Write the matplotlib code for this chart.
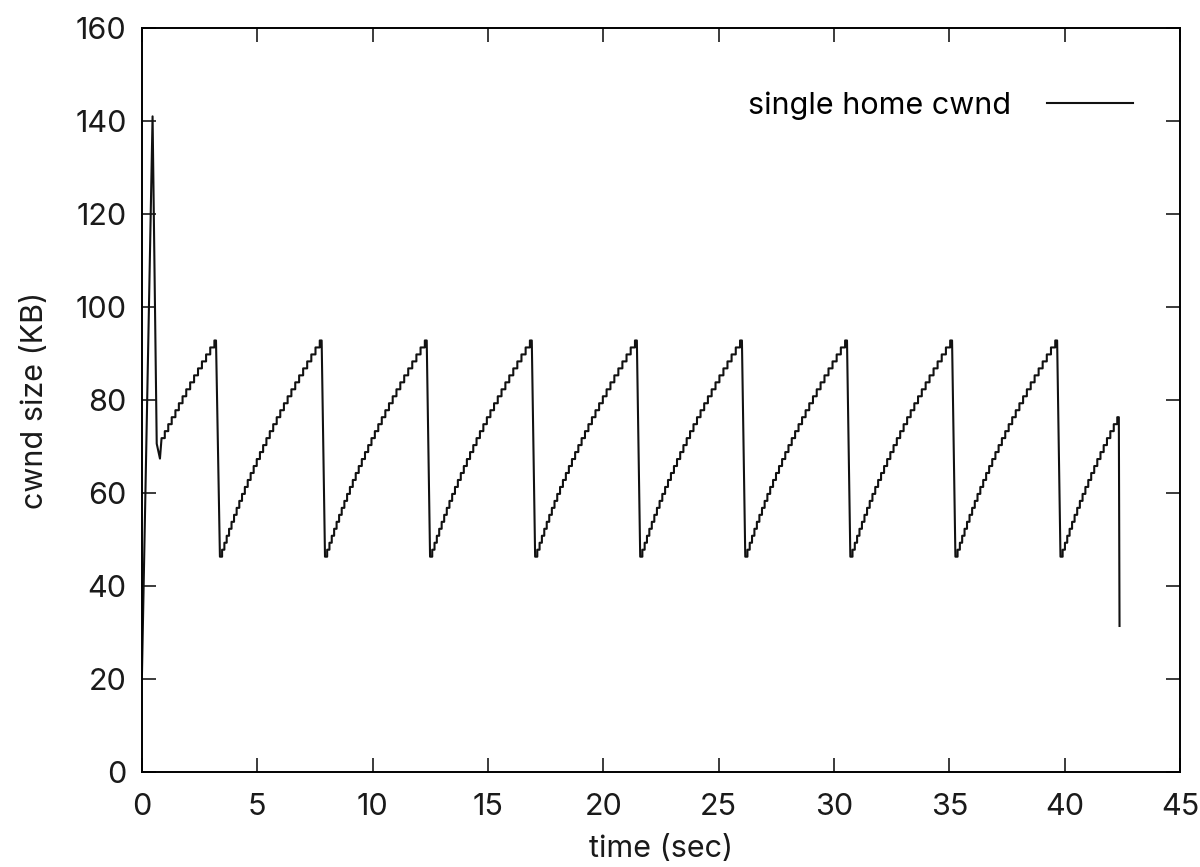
import numpy as np
import matplotlib.pyplot as plt

plt.rcParams['font.family'] = ['Inter', 'DejaVu Sans']

# slow start / first loss
start_t = [0.0, 0.46, 0.64, 0.78]
start_v = [21.0, 141.0, 70.6, 67.4]

# first congestion-avoidance ramp (step times, cwnd levels)
first_t = [0.85, 0.99, 1.14, 1.29, 1.45, 1.60, 1.76, 1.92, 2.09, 2.26,
           2.43, 2.60, 2.78, 2.96, 3.14]
first_v = [71.8, 73.3, 74.8, 76.3, 77.8, 79.3, 80.8, 82.3, 83.8, 85.3,
           86.8, 88.3, 89.8, 91.3, 92.8]
first_end = 3.21

# repeating sawtooth: step offsets within a cycle and levels
ramp_off = [0.0, 0.094, 0.193, 0.293, 0.396, 0.503, 0.612, 0.725, 0.840, 0.958,
            1.080, 1.205, 1.332, 1.463, 1.596, 1.734, 1.873, 2.015, 2.161, 2.310,
            2.462, 2.616, 2.774, 2.935, 3.098, 3.265, 3.434, 3.608, 3.783, 3.962,
            4.143, 4.328]
ramp_v = [46.3, 47.8, 49.3, 50.8, 52.3, 53.8, 55.3, 56.8, 58.3, 59.8,
          61.3, 62.8, 64.3, 65.8, 67.3, 68.8, 70.3, 71.8, 73.3, 74.8,
          76.3, 77.8, 79.3, 80.8, 82.3, 83.8, 85.3, 86.8, 88.3, 89.8,
          91.3, 92.8]
ramp_len = 4.41
cycle_starts = [3.38, 7.935, 12.49, 17.045, 21.60, 26.155, 30.71, 35.265, 39.82]

# last partial cycle
last_steps = 21
last_end = 42.35
final_t = 42.38
final_v = 31.4

t = list(start_t)
v = list(start_v)


def add_ramp(times, levels, end):
    t.append(times[0])
    v.append(levels[0])
    for tk, lk in zip(times[1:], levels[1:]):
        t.extend([tk, tk])
        v.extend([v[-1], lk])
    t.append(end)
    v.append(v[-1])


add_ramp(first_t, first_v, first_end)
for s in cycle_starts[:-1]:
    add_ramp([s + o for o in ramp_off], ramp_v, s + ramp_len)
s = cycle_starts[-1]
add_ramp([s + o for o in ramp_off[:last_steps]], ramp_v[:last_steps], last_end)
t.append(final_t)
v.append(final_v)

fig = plt.figure(figsize=(12, 8.67), dpi=100)
ax = fig.add_axes([0.1183, 0.1096, 0.865, 0.8581])
ax.plot(t, v, color='#111111', lw=1.5, label='single home cwnd')

ax.set_xlim(0, 45)
ax.set_ylim(0, 160)
ax.set_xticks(np.arange(0, 46, 5))
ax.set_yticks(np.arange(0, 161, 20))
ax.tick_params(direction='in', top=True, right=True, length=10, width=1.2,
               labelsize=22, colors='#1a1a1a')
ax.tick_params(axis='x', pad=15)
ax.tick_params(axis='y', pad=11)
for sp in ax.spines.values():
    sp.set_linewidth(1.4)
ax.set_xlabel('time (sec)', fontsize=22, labelpad=10, color='#1a1a1a')
ax.set_ylabel('cwnd size (KB)', fontsize=22, labelpad=19, color='#1a1a1a')

ax.legend(loc='upper right', bbox_to_anchor=(0.9547, 0.915), frameon=False,
          markerfirst=False, fontsize=22, handlelength=2.8, handletextpad=1.2,
          borderpad=0, borderaxespad=0)

fig.savefig('out.png', dpi=100)
